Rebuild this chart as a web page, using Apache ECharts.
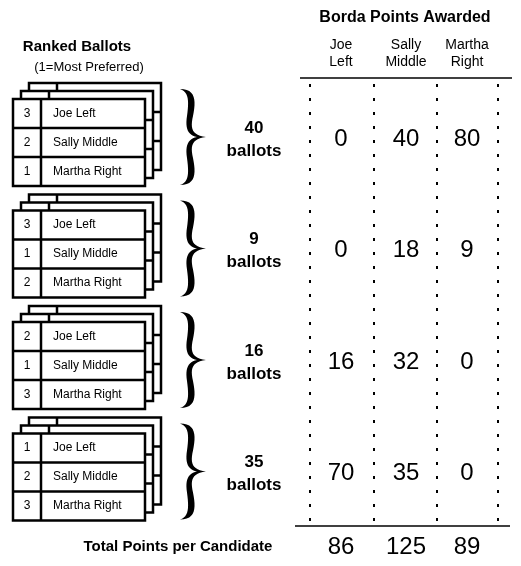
<!DOCTYPE html>
<html><head><meta charset="utf-8">
<script src="https://cdn.jsdelivr.net/npm/echarts@6/dist/echarts.min.js"></script>
<style>html,body{margin:0;padding:0;background:#fff}#c{width:521px;height:566px}</style>
</head><body><div id="c"></div>
<script>
const candidates = ['Joe Left','Sally Middle','Martha Right'];
const candHead = [['Joe','Left'],['Sally','Middle'],['Martha','Right']];
const ballotCounts = [40, 9, 16, 35];
const rankings = [[3,2,1],[3,1,2],[2,1,3],[1,2,3]];
const points = [[0,40,80],[0,18,9],[16,32,0],[70,35,0]];
const totals = [86,125,89];

const F = 'Liberation Sans, Arial, Helvetica, sans-serif';
const g = [];
function txt(x,y,s,size,bold,align){
  g.push({type:'text',x:x,y:y,style:{text:String(s),fill:'#000',font:(bold?'bold ':'')+size+'px '+F,align:align||'center',verticalAlign:'middle'}});
}
function line(x1,y1,x2,y2,w,dash){
  g.push({type:'line',shape:{x1,y1,x2,y2},style:{stroke:'#000',lineWidth:w||1,lineDash:dash||null}});
}
function bez(p0,p1,p2,p3,out){
  for(let i=1;i<=12;i++){const t=i/12,u=1-t;
    out.push([u*u*u*p0[0]+3*u*u*t*p1[0]+3*u*t*t*p2[0]+t*t*t*p3[0],u*u*u*p0[1]+3*u*u*t*p1[1]+3*u*t*t*p2[1]+t*t*t*p3[1]]);}
}
function brace(ox,oy){
  const segs=[[[0,0],[16,0],[16,12],[13,27]],[[13,27],[10,40],[12,46],[26,48]],[[26,48],[12,50],[10,56],[13,69]],[[13,69],[16,84],[16,96],[0,96]],
    [[0,96],[9,93],[9,84],[7,69]],[[7,69],[5,56],[8,50],[17,48]],[[17,48],[8,46],[5,40],[7,27]],[[7,27],[9,12],[9,3],[0,0]]];
  const pts=[[0,0]];segs.forEach(s=>bez(s[0],s[1],s[2],s[3],pts));
  g.push({type:'polygon',shape:{points:pts.map(p=>[p[0]+ox,p[1]+oy])},style:{fill:'#000'}});
}
txt(405,18,'Borda Points Awarded',16,true);
txt(77,47,'Ranked Ballots',15,true);
txt(89,67,'(1=Most Preferred)',13,false);
const colX=[341,406,467];
candHead.forEach((h,i)=>{txt(colX[i],45,h[0],14);txt(colX[i],62,h[1],14);});
line(300,78,512,78,1.5);
line(295,526,510,526,1.5);
[310,374,437,498].forEach(x=>line(x,84,x,522,2,[3,11]));

const rowH=29, bw=132;
ballotCounts.forEach((n,gi)=>{
  const top=99+gi*111.5;
  for(let k=2;k>=0;k--){
    const x0=13+k*8, y0=top-k*8;
    g.push({type:'rect',shape:{x:x0,y:y0,width:bw,height:rowH*3},style:{fill:'#fff',stroke:'#000',lineWidth:2.5}});
    line(x0+28,y0,x0+28,y0+rowH*3,2.5);
    line(x0,y0+rowH,x0+bw,y0+rowH,2.5);
    line(x0,y0+2*rowH,x0+bw,y0+2*rowH,2.5);
  }
  candidates.forEach((c,r)=>{
    const cy=top+rowH*r+rowH/2;
    txt(27,cy,rankings[gi][r],12);
    txt(53,cy,c,12,false,'left');
  });
  brace(180,top-10);
  txt(254,top+29,n,17,true);
  txt(254,top+52,'ballots',17,true);
  points[gi].forEach((p,ci)=>txt(colX[ci],top+40,p,24));
});
txt(178,547,'Total Points per Candidate',15,true);
totals.forEach((t,i)=>txt(colX[i],547,t,24));

const chart=echarts.init(document.getElementById('c'));
chart.setOption({animation:false,graphic:g});
</script></body></html>
